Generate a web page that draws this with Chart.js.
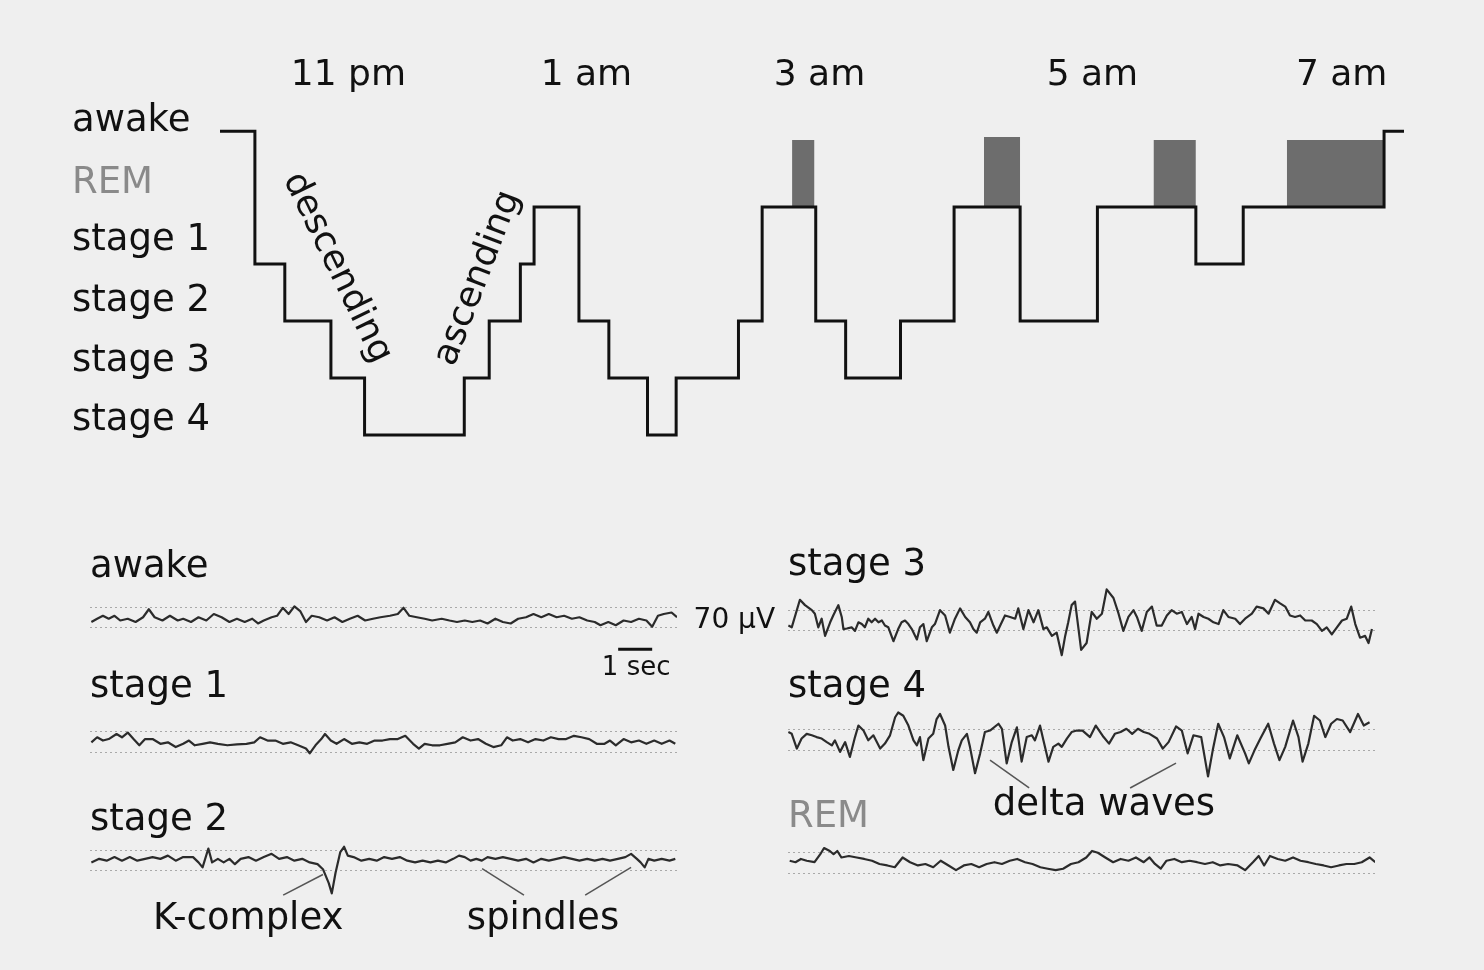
<!DOCTYPE html>
<html>
<head>
<meta charset="utf-8">
<title>Sleep stages</title>
<script src="https://cdn.jsdelivr.net/npm/chart.js@4.4.0/dist/chart.umd.min.js"></script>
<style>
  html, body { margin: 0; padding: 0; background: #efefef; }
  body { width: 1484px; height: 970px; position: relative; overflow: hidden; }
  canvas { position: absolute; }
</style>
</head>
<body>
<canvas id="hypno" width="1484" height="500" style="left:0;top:0"></canvas>
<canvas id="eegAwake"></canvas>
<canvas id="eegStage1"></canvas>
<canvas id="eegStage2"></canvas>
<canvas id="eegStage3"></canvas>
<canvas id="eegStage4"></canvas>
<canvas id="eegRem"></canvas>
<script>
// --- hypnogram data ---
// levels: 0 = stage 4, 1 = stage 3, 2 = stage 2, 3 = stage 1, 4 = REM, 5.33 = awake
const stageNames = ['stage 4', 'stage 3', 'stage 2', 'stage 1', 'REM', 'awake'];
// where the names sit on the level axis (the figure puts them a bit above each step)
const stageLabelPos = [0.25, 1.30, 2.35, 3.42, 4.42, 5.51];

// time in hours (24 = midnight), each point = new level starting there
const hypnoHours = [22.00, 22.28, 22.52, 22.89, 23.16, 23.96, 24.16, 24.41, 24.52, 24.88, 25.12, 25.43, 25.66,
                    26.16, 26.35, 26.78, 27.02, 27.46, 27.89, 28.42, 29.04, 29.83, 30.21, 31.34, 31.50];
const hypnoStage = [5.33, 3, 2, 1, 0, 1, 2, 3, 4, 2, 1, 0, 1,
                    2, 4, 2, 1, 2, 4, 2, 4, 3, 4, 5.33, 5.33];

// REM periods (grey blocks)
const remStart = [26.59, 28.13, 29.49, 30.56];
const remEnd   = [26.77, 28.42, 29.83, 31.34];
const remTop   = [5.175, 5.23, 5.175, 5.175];

const timeLabels = ['11 pm', '1 am', '3 am', '5 am', '7 am'];
const timeTickPos = [23.03, 24.94, 26.81, 29.0, 31.0];

// --- EEG traces: [seconds, microvolts] ---
const awakeEEG = [[0.04,-15],[0.21,-4],[0.38,6],[0.55,-4],[0.72,6],[0.89,-10],[1.11,-4],[1.34,-15],[1.56,1],[1.73,28],
  [1.90,1],[2.13,-10],[2.35,6],[2.58,-10],[2.74,-4],[2.97,-15],[3.19,1],[3.42,-10],[3.64,12],[3.87,1],[4.10,-15],
  [4.32,-4],[4.55,-15],[4.77,-4],[4.94,-20],[5.11,-10],[5.34,1],[5.50,6],[5.67,33],[5.84,12],[6.01,38],[6.18,22],
  [6.35,-15],[6.52,6],[6.74,1],[6.97,-10],[7.19,1],[7.42,-15],[7.64,-4],[7.87,6],[8.09,-10],[8.32,-4],[8.54,1],
  [8.82,6],[9.05,12],[9.22,33],[9.39,6],[9.61,1],[9.84,-4],[10.06,-10],[10.34,-4],[10.57,-10],[10.79,-15],[11.02,-10],
  [11.24,-15],[11.47,-10],[11.69,-20],[11.92,-4],[12.14,-15],[12.37,-20],[12.59,-4],[12.82,1],[13.04,12],[13.27,1],
  [13.49,12],[13.72,1],[13.94,6],[14.17,-4],[14.39,1],[14.62,-10],[14.84,-15],[15.01,-26],[15.24,-15],[15.46,-26],
  [15.69,-10],[15.91,-15],[16.14,-4],[16.36,-10],[16.53,-31],[16.70,6],[16.87,12],[17.10,17],[17.26,1]];

const stage1EEG = [[0.04,-1],[0.21,16],[0.38,5],[0.55,10],[0.78,27],[0.94,16],[1.11,32],[1.28,10],[1.45,-11],[1.62,10],
  [1.84,10],[2.07,-6],[2.29,-1],[2.52,-17],[2.74,-6],[2.91,5],[3.08,-11],[3.31,-6],[3.53,-1],[3.76,-6],[4.04,-11],
  [4.32,-8],[4.60,-6],[4.83,-1],[5.00,16],[5.22,5],[5.45,5],[5.67,-6],[5.90,-1],[6.12,-11],[6.35,-22],[6.46,-38],
  [6.63,-11],[6.80,10],[6.91,27],[7.08,5],[7.25,-6],[7.47,10],[7.70,-6],[7.92,-1],[8.15,-6],[8.37,5],[8.60,5],
  [8.82,10],[9.05,10],[9.27,21],[9.50,-6],[9.67,-22],[9.84,-6],[10.06,-11],[10.29,-11],[10.51,-6],[10.74,-1],
  [10.96,16],[11.19,5],[11.41,10],[11.64,-6],[11.86,-17],[12.09,-11],[12.26,16],[12.43,5],[12.65,10],[12.88,-1],
  [13.10,10],[13.33,5],[13.55,16],[13.78,10],[14.00,10],[14.23,21],[14.45,16],[14.68,10],[14.90,-6],[15.13,-6],
  [15.29,5],[15.46,-11],[15.69,10],[15.91,-1],[16.14,5],[16.36,-6],[16.59,5],[16.81,-6],[17.04,5],[17.21,-6]];

const stage2EEG = [[0.04,-6],[0.27,6],[0.49,0],[0.72,12],[0.94,0],[1.17,12],[1.39,0],[1.62,6],[1.84,12],[2.07,6],
  [2.29,17],[2.52,0],[2.74,12],[3.03,12],[3.19,-6],[3.31,-23],[3.48,41],[3.59,-6],[3.76,6],[3.93,-6],[4.10,6],
  [4.26,-12],[4.43,6],[4.66,12],[4.88,0],[5.11,12],[5.34,23],[5.56,6],[5.79,12],[6.01,0],[6.24,6],[6.46,-6],
  [6.69,-12],[6.85,-29],[7.02,-76],[7.11,-111],[7.22,-41],[7.36,29],[7.47,47],[7.58,17],[7.75,12],[7.98,0],
  [8.21,6],[8.43,0],[8.65,12],[8.88,6],[9.11,12],[9.33,0],[9.56,-6],[9.78,0],[10.01,-6],[10.23,0],[10.46,-6],
  [10.68,6],[10.85,17],[11.02,12],[11.19,0],[11.36,6],[11.52,0],[11.69,12],[11.92,6],[12.14,12],[12.37,6],
  [12.59,0],[12.82,6],[13.04,-6],[13.27,6],[13.49,0],[13.72,6],[13.94,12],[14.17,6],[14.39,0],[14.62,6],
  [14.84,0],[15.07,6],[15.29,0],[15.52,6],[15.74,12],[15.91,23],[16.08,6],[16.19,-6],[16.31,-23],[16.42,6],
  [16.59,0],[16.81,6],[17.04,0],[17.21,6]];

const stage3EEG = [[0.01,-17],[0.11,-23],[0.35,70],[0.50,52],[0.70,35],[0.79,23],[0.89,-23],[0.99,6],[1.09,-52],
  [1.24,-6],[1.33,17],[1.48,52],[1.58,12],[1.63,-29],[1.73,-27],[1.87,-23],[1.97,-35],[2.07,-6],[2.17,-12],
  [2.26,-23],[2.36,6],[2.46,-6],[2.56,6],[2.66,-6],[2.76,0],[2.85,-17],[2.95,-23],[3.10,-70],[3.24,-29],[3.34,-6],
  [3.44,0],[3.54,-12],[3.64,-29],[3.79,-64],[3.88,-23],[3.98,-12],[4.08,-70],[4.23,-23],[4.32,-12],[4.47,35],
  [4.62,17],[4.76,-41],[4.91,6],[5.06,41],[5.21,12],[5.35,-6],[5.45,-29],[5.55,-41],[5.65,-6],[5.79,6],[5.89,29],
  [6.04,-17],[6.14,-41],[6.24,-17],[6.38,17],[6.53,12],[6.68,6],[6.77,41],[6.92,-29],[7.07,35],[7.22,-6],[7.36,35],
  [7.51,-29],[7.61,-23],[7.76,-52],[7.90,-41],[8.05,-117],[8.15,-52],[8.24,-6],[8.34,52],[8.44,64],[8.62,-99],
  [8.78,-76],[8.93,29],[9.08,6],[9.23,23],[9.37,105],[9.57,76],[9.72,23],[9.86,-35],[10.01,12],[10.16,35],
  [10.26,12],[10.40,-35],[10.55,29],[10.70,47],[10.84,-17],[10.99,-17],[11.14,17],[11.28,35],[11.43,23],
  [11.58,29],[11.73,-12],[11.87,12],[11.97,-29],[12.07,23],[12.22,12],[12.36,6],[12.51,-6],[12.66,-12],
  [12.80,35],[12.95,12],[13.15,6],[13.29,-12],[13.44,6],[13.64,23],[13.78,47],[13.98,41],[14.13,23],[14.32,70],
  [14.47,58],[14.62,47],[14.76,17],[14.91,12],[15.06,17],[15.21,0],[15.40,0],[15.55,-12],[15.70,-35],[15.84,-23],
  [15.99,-47],[16.14,-23],[16.29,0],[16.43,6],[16.56,47],[16.68,-12],[16.82,-58],[16.97,-52],[17.07,-76],[17.17,-29]];

const stage4EEG = [[0.01,27],[0.11,21],[0.26,-29],[0.40,5],[0.55,21],[0.70,16],[0.84,10],[0.99,5],[1.14,-7],
  [1.29,-18],[1.38,-1],[1.53,-40],[1.68,-7],[1.82,-57],[1.97,10],[2.07,49],[2.22,32],[2.36,-1],[2.51,16],
  [2.71,-29],[2.85,-12],[3.00,16],[3.15,77],[3.24,93],[3.39,82],[3.54,49],[3.69,-1],[3.79,-18],[3.88,10],
  [3.98,-68],[4.13,5],[4.27,21],[4.37,71],[4.47,88],[4.62,49],[4.72,-23],[4.86,-101],[5.01,-34],[5.11,-1],
  [5.26,21],[5.35,-23],[5.50,-112],[5.65,-45],[5.79,27],[5.94,32],[6.19,55],[6.29,38],[6.43,-79],[6.58,-7],
  [6.73,43],[6.87,-73],[7.02,10],[7.17,16],[7.26,-1],[7.41,49],[7.51,-1],[7.66,-73],[7.80,-23],[7.95,-12],
  [8.05,-23],[8.20,5],[8.34,27],[8.49,32],[8.66,32],[8.88,10],[9.05,49],[9.28,10],[9.44,-12],[9.61,21],[9.78,27],
  [9.95,38],[10.12,21],[10.29,38],[10.46,27],[10.63,21],[10.85,5],[11.02,-29],[11.19,-7],[11.41,46],[11.58,32],
  [11.75,-45],[11.92,16],[12.15,10],[12.35,-123],[12.49,-34],[12.65,55],[12.82,10],[12.99,-62],[13.21,16],
  [13.44,-45],[13.55,-79],[13.72,-34],[13.89,5],[14.12,55],[14.29,-12],[14.45,-68],[14.62,-23],[14.85,66],
  [15.01,10],[15.13,-73],[15.30,-12],[15.47,82],[15.64,66],[15.80,10],[15.97,55],[16.14,71],[16.31,66],
  [16.53,27],[16.76,88],[16.93,49],[17.10,60]];

const remEEG = [[0.05,8],[0.22,3],[0.38,14],[0.55,8],[0.78,3],[0.95,30],[1.06,51],[1.23,41],[1.34,30],[1.45,41],
  [1.57,19],[1.79,24],[2.02,19],[2.24,14],[2.47,8],[2.69,-3],[2.92,-8],[3.14,-14],[3.37,19],[3.59,3],[3.82,-8],
  [4.04,-3],[4.27,-14],[4.49,8],[4.72,-8],[4.94,-24],[5.17,-8],[5.39,-3],[5.62,-14],[5.84,-3],[6.07,3],[6.29,-3],
  [6.52,8],[6.74,14],[6.97,3],[7.19,-3],[7.42,-14],[7.64,-19],[7.87,-24],[8.09,-19],[8.32,-3],[8.54,3],[8.77,19],
  [8.94,41],[9.11,35],[9.33,19],[9.56,3],[9.78,14],[10.01,8],[10.23,19],[10.46,3],[10.63,19],[10.79,-3],
  [10.96,-19],[11.13,8],[11.36,14],[11.58,3],[11.81,8],[12.03,3],[12.26,-3],[12.49,3],[12.71,-8],[12.94,-3],
  [13.22,-8],[13.44,-24],[13.67,3],[13.84,24],[14.00,-8],[14.17,24],[14.40,14],[14.62,8],[14.85,19],[15.07,8],
  [15.30,3],[15.52,-3],[15.75,-8],[15.97,-14],[16.20,-8],[16.42,-3],[16.65,-3],[16.87,3],[17.10,19],[17.27,3]];

const FONT = '"DejaVu Sans", sans-serif';
const INK = '#111';

// ---------- hypnogram ----------
const slopeNotes = [
  { text: 'descending', x: 22.94, y: 2.93, angle: 64 },
  { text: 'ascending', x: 24.07, y: 2.75, angle: -69 }
];

const slopeTextPlugin = {
  id: 'slopeText',
  afterDatasetsDraw(chart) {
    const { ctx, scales } = chart;
    ctx.save();
    ctx.fillStyle = INK;
    ctx.font = '36px ' + FONT;
    ctx.textAlign = 'center';
    ctx.textBaseline = 'middle';
    slopeNotes.forEach(n => {
      ctx.save();
      ctx.translate(scales.x.getPixelForValue(n.x), scales.y.getPixelForValue(n.y));
      ctx.rotate(n.angle * Math.PI / 180);
      ctx.fillText(n.text, 0, 0);
      ctx.restore();
    });
    ctx.restore();
  }
};

const remPoints = [];
remStart.forEach((s, i) => {
  remPoints.push({ x: s, y: remTop[i] }, { x: remEnd[i], y: remTop[i] }, { x: remEnd[i], y: null });
});

new Chart(document.getElementById('hypno'), {
  type: 'line',
  data: {
    datasets: [
      {
        data: hypnoHours.map((h, i) => ({ x: h, y: hypnoStage[i] })),
        stepped: 'before',
        borderColor: INK,
        borderWidth: 3,
        borderJoinStyle: 'miter',
        pointRadius: 0,
        fill: false,
        order: 0
      },
      {
        data: remPoints,
        borderWidth: 0,
        borderColor: 'rgba(0,0,0,0)',
        backgroundColor: '#6d6d6d',
        pointRadius: 0,
        spanGaps: false,
        fill: { value: 4 },
        order: 1
      }
    ]
  },
  options: {
    responsive: false,
    animation: false,
    events: [],
    layout: { padding: { left: 72, right: 80, top: 0, bottom: 30.8 } },
    plugins: { legend: { display: false }, tooltip: { enabled: false } },
    scales: {
      x: {
        type: 'linear',
        position: 'top',
        min: 22,
        max: 31.5,
        afterBuildTicks: s => { s.ticks = timeTickPos.map(v => ({ value: v })); },
        afterFit: s => { s.height = 93; },
        grid: { display: false, drawTicks: false },
        border: { display: false },
        ticks: {
          autoSkip: false,
          maxRotation: 0,
          padding: -1,
          color: INK,
          font: { family: FONT, size: 36, lineHeight: 1 },
          callback: (v, i) => timeLabels[i]
        }
      },
      y: {
        type: 'linear',
        min: -0.6,
        max: 6,
        afterBuildTicks: s => { s.ticks = stageLabelPos.map(v => ({ value: v })); },
        afterFit: s => { s.width = 148; },
        grid: { display: false, drawTicks: false },
        border: { display: false },
        ticks: {
          autoSkip: false,
          crossAlign: 'far',
          padding: 0,
          font: { family: FONT, size: 37 },
          color: c => (c.index === 4) ? '#8a8a8a' : INK,
          callback: (v, i) => stageNames[i]
        }
      }
    }
  },
  plugins: [slopeTextPlugin]
});

// ---------- EEG traces ----------
const UV_PX = 0.3;      // pixels per microvolt
const Y_MIN = -130;

function notesPlugin(notes) {
  return {
    id: 'notes',
    afterDraw(chart) {
      const { ctx, scales: { x, y } } = chart;
      ctx.save();
      (notes.lines || []).forEach(l => {
        ctx.strokeStyle = l.color || '#555';
        ctx.lineWidth = l.width || 1.5;
        ctx.beginPath();
        ctx.moveTo(x.getPixelForValue(l.a[0]), y.getPixelForValue(l.a[1]));
        ctx.lineTo(x.getPixelForValue(l.b[0]), y.getPixelForValue(l.b[1]));
        ctx.stroke();
      });
      (notes.texts || []).forEach(t => {
        ctx.fillStyle = INK;
        ctx.font = (t.size || 37) + 'px ' + FONT;
        ctx.textAlign = t.align || 'center';
        ctx.textBaseline = 'middle';
        ctx.fillText(t.text, x.getPixelForValue(t.at[0]), y.getPixelForValue(t.at[1]));
      });
      ctx.restore();
    }
  };
}

const traces = [
  { id: 'eegAwake', label: 'awake', data: awakeEEG, col: 0, labelY: 567, center: 617,
    notes: { lines: [{ a: [15.53, -107], b: [16.53, -107], color: INK, width: 3 }],
             texts: [{ text: '1 sec', at: [16.06, -173], size: 26 }] } },
  { id: 'eegStage1', label: 'stage 1', data: stage1EEG, col: 0, labelY: 687, center: 741.5, notes: {} },
  { id: 'eegStage2', label: 'stage 2', data: stage2EEG, col: 0, labelY: 820, center: 860,
    notes: { lines: [{ a: [5.68, -117], b: [6.85, -47] },
                     { a: [11.53, -27], b: [12.76, -117] },
                     { a: [15.91, -23], b: [14.56, -117] }],
             texts: [{ text: 'K-complex', at: [4.65, -200] }, { text: 'spindles', at: [13.32, -200] }] } },
  { id: 'eegStage3', label: 'stage 3', data: stage3EEG, col: 1, labelY: 565, center: 620,
    notes: { texts: [{ text: '70 µV', at: [-0.38, 0], size: 28, align: 'right' }] } },
  { id: 'eegStage4', label: 'stage 4', data: stage4EEG, col: 1, labelY: 687, center: 739.5,
    notes: { lines: [{ a: [5.94, -68], b: [7.09, -162] }, { a: [11.41, -78], b: [10.06, -162] }],
             texts: [{ text: 'delta waves', at: [9.29, -222] }] } },
  { id: 'eegRem', label: 'REM', data: remEEG, col: 1, labelY: 817, center: 862.5, color: '#8a8a8a', notes: {} }
];

traces.forEach(tr => {
  const cv = document.getElementById(tr.id);
  const left = tr.col ? 685 : 60;
  const width = tr.col ? 715 : 640;
  const padL = tr.col ? 103 : 30;
  const padR = tr.col ? 25 : 23;
  const padB = 100;
  const chartH = (tr.center - tr.labelY - 18) - Y_MIN * UV_PX;
  const height = Math.round(36 + chartH + padB);
  const yMax = (tr.center - tr.labelY - 18) / UV_PX;
  const yMin = yMax - (height - 36 - padB) / UV_PX;
  cv.width = width;
  cv.height = height;
  cv.style.left = left + 'px';
  cv.style.top = (tr.labelY - 18) + 'px';

  new Chart(cv, {
    type: 'line',
    data: {
      datasets: [{
        data: tr.data.map(p => ({ x: p[0], y: p[1] })),
        borderColor: '#2b2b2b',
        borderWidth: 2.2,
        borderJoinStyle: 'round',
        pointRadius: 0,
        tension: 0
      }]
    },
    options: {
      responsive: false,
      animation: false,
      events: [],
      layout: { padding: { left: padL, right: padR, top: 0, bottom: padB } },
      plugins: {
        legend: { display: false },
        tooltip: { enabled: false },
        title: {
          display: true,
          text: tr.label,
          align: 'start',
          color: tr.color || INK,
          font: { family: FONT, size: 37, weight: 'normal', lineHeight: 1 },
          padding: { top: 0, bottom: 0 }
        }
      },
      scales: {
        x: { type: 'linear', display: false, min: 0, max: 17.26 },
        y: {
          type: 'linear',
          min: yMin,
          max: yMax,
          afterBuildTicks: s => { s.ticks = [{ value: -35 }, { value: 35 }]; },
          afterFit: s => { s.width = 0; },
          ticks: { display: false },
          grid: { color: '#a9a9a9', lineWidth: 1, drawTicks: false },
          border: { display: false, dash: [2, 3] }
        }
      }
    },
    plugins: [notesPlugin(tr.notes)]
  });
});
</script>
</body>
</html>
